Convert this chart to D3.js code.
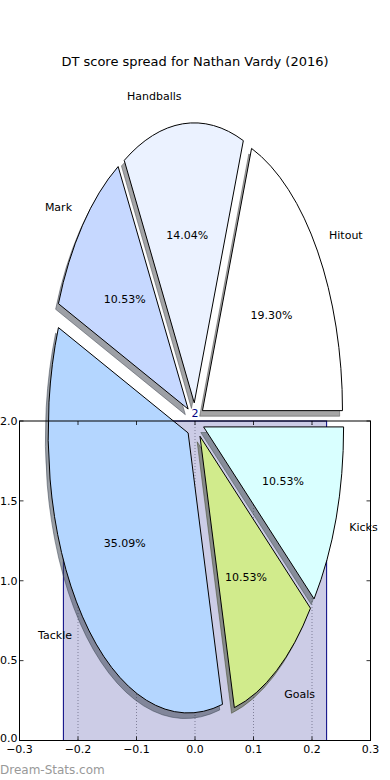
<!DOCTYPE html>
<html><head><meta charset="utf-8">
<script src="https://cdn.jsdelivr.net/npm/d3@7"></script>
<style>
body{margin:0;background:#fff}
svg{display:block}
text{font-family:"DejaVu Sans",sans-serif}
</style>
</head><body>
<svg id="chart" width="390" height="780"></svg>
<script>
// ---- data ----
const title = "DT score spread for Nathan Vardy (2016)";
const categories = ["Hitout", "Handballs", "Mark", "Tackle", "Goals", "Kicks"];
const counts = [11, 8, 6, 20, 6, 6];
const sliceColors = ["#ffffff", "#ebf2ff", "#c6d8ff", "#b4d6ff", "#d1eb8c", "#d9ffff"];
const explode = [0.065, 0.065, 0.065, 0.065, 0.065, 0.065];
const barPositions = [0];
const barValues = [2];
const barLabels = ["2"];
const xTicks = [-0.3, -0.2, -0.1, 0.0, 0.1, 0.2, 0.3];
const yTicks = [0.0, 0.5, 1.0, 1.5, 2.0];
const watermark = "Dream-Stats.com";

// ---- layout ----
const W = 390, H = 780;
const plot = {left: 19.5, right: 370.5, top: 421, bottom: 740.5};
const barWidth = 0.45;
const pieRx = 140, pieRy = 280;

const svg = d3.select("#chart");
const x = d3.scaleLinear().domain([-0.3, 0.3]).range([plot.left, plot.right]);
const y = d3.scaleLinear().domain([0, 2]).range([plot.bottom, plot.top]);

// title
svg.append("text").attr("x", W / 2).attr("y", 66).attr("text-anchor", "middle")
  .attr("font-size", 13).attr("fill", "#000").text(title);

// gridlines (x only), dotted
const grid = svg.append("g");
xTicks.forEach(t => {
  grid.append("line").attr("x1", x(t)).attr("x2", x(t))
    .attr("y1", plot.top).attr("y2", plot.bottom)
    .attr("stroke", "#777").attr("stroke-width", 0.7).attr("stroke-dasharray", "1,2");
});

// bars
svg.append("g").selectAll("rect").data(barValues).join("rect")
  .attr("x", (d, i) => x(barPositions[i] - barWidth / 2))
  .attr("width", (d, i) => x(barPositions[i] + barWidth / 2) - x(barPositions[i] - barWidth / 2))
  .attr("y", d => y(d)).attr("height", d => y(0) - y(d))
  .attr("fill", "rgba(0,0,128,0.2)").attr("stroke", "#000080").attr("stroke-width", 1);

// bar value labels
svg.append("g").selectAll("text").data(barValues).join("text")
  .attr("x", (d, i) => x(barPositions[i])).attr("y", d => y(d) - 4)
  .attr("text-anchor", "middle").attr("font-size", 11).attr("fill", "#000080")
  .text((d, i) => barLabels[i]);

// pie (elliptical, exploded, with shadow), CCW from 3 o'clock
const total = d3.sum(counts);
const arcs = d3.pie().sort(null).startAngle(0).endAngle(2 * Math.PI)(counts);
const cx = x(0), cy = y(2);

function wedgePath(a, ox, oy) {
  const t1 = a.startAngle, t2 = a.endAngle;
  const ax = ox, ay = oy;
  const p1 = [ax + pieRx * Math.cos(t1), ay - pieRy * Math.sin(t1)];
  const p2 = [ax + pieRx * Math.cos(t2), ay - pieRy * Math.sin(t2)];
  const large = (t2 - t1) > Math.PI ? 1 : 0;
  return `M${ax},${ay}L${p1[0]},${p1[1]}A${pieRx},${pieRy} 0 ${large} 0 ${p2[0]},${p2[1]}Z`;
}
const apex = arcs.map((a, i) => {
  const mid = (a.startAngle + a.endAngle) / 2;
  return [cx + explode[i] * pieRx * Math.cos(mid), cy - explode[i] * pieRy * Math.sin(mid), mid];
});

const shadows = svg.append("g");
arcs.forEach((a, i) => {
  const c = d3.rgb(sliceColors[i]);
  const sc = d3.rgb(c.r * 0.3, c.g * 0.3, c.b * 0.3);
  shadows.append("path")
    .attr("d", wedgePath(a, apex[i][0] - 0.02 * pieRx, apex[i][1] + 0.02 * pieRy))
    .attr("fill", sc).attr("fill-opacity", 0.5)
    .attr("stroke", sc).attr("stroke-opacity", 0.5).attr("stroke-width", 1);
});
const wedges = svg.append("g");
arcs.forEach((a, i) => {
  wedges.append("path").attr("d", wedgePath(a, apex[i][0], apex[i][1]))
    .attr("fill", sliceColors[i]).attr("stroke", "#000").attr("stroke-width", 1)
    .attr("stroke-linejoin", "miter");
});

// labels and percentages
const texts = svg.append("g").attr("font-size", 11).attr("fill", "#000");
arcs.forEach((a, i) => {
  const [ax, ay, mid] = apex[i];
  const c = Math.cos(mid), s = Math.sin(mid);
  texts.append("text")
    .attr("x", ax + 1.1 * pieRx * c).attr("y", ay - 1.1 * pieRy * s)
    .attr("dy", "0.35em").attr("text-anchor", c > 0 ? "start" : "end")
    .text(categories[i]);
  texts.append("text")
    .attr("x", ax + 0.6 * pieRx * c).attr("y", ay - 0.6 * pieRy * s)
    .attr("dy", "0.35em").attr("text-anchor", "middle")
    .text((counts[i] / total * 100).toFixed(2) + "%");
});

// spines and ticks (on top)
const ax = svg.append("g");
ax.append("rect").attr("x", plot.left).attr("y", plot.top)
  .attr("width", plot.right - plot.left).attr("height", plot.bottom - plot.top)
  .attr("fill", "none").attr("stroke", "#000").attr("stroke-width", 1);
xTicks.forEach(t => {
  ax.append("line").attr("x1", x(t)).attr("x2", x(t)).attr("y1", plot.bottom).attr("y2", plot.bottom - 4)
    .attr("stroke", "#000").attr("stroke-width", 0.8);
  ax.append("line").attr("x1", x(t)).attr("x2", x(t)).attr("y1", plot.top).attr("y2", plot.top + 4)
    .attr("stroke", "#000").attr("stroke-width", 0.8);
  ax.append("text").attr("x", x(t)).attr("y", plot.bottom + 12).attr("text-anchor", "middle")
    .attr("font-size", 11).text(d3.format(".1f")(t).replace("-", "\u2212"));
});
yTicks.forEach(t => {
  ax.append("line").attr("x1", plot.left).attr("x2", plot.left + 4).attr("y1", y(t)).attr("y2", y(t))
    .attr("stroke", "#000").attr("stroke-width", 0.8);
  ax.append("line").attr("x1", plot.right).attr("x2", plot.right - 4).attr("y1", y(t)).attr("y2", y(t))
    .attr("stroke", "#000").attr("stroke-width", 0.8);
  ax.append("text").attr("x", plot.left - 2).attr("y", y(t) - (t === 0 ? 2 : 0)).attr("dy", "0.35em")
    .attr("text-anchor", "end").attr("font-size", 11).text(d3.format(".1f")(t));
});

// watermark
svg.append("text").attr("x", 0).attr("y", 774).attr("font-size", 12)
  .attr("fill", "#999").text(watermark);
</script>
</body></html>
